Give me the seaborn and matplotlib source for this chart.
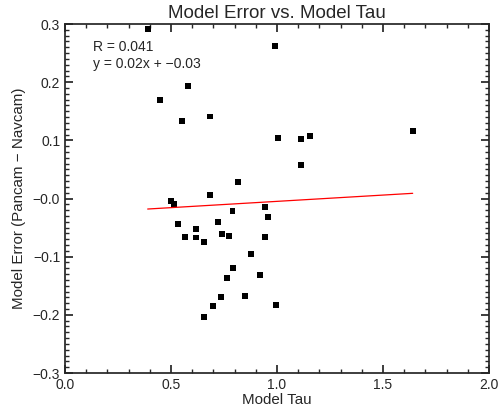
import numpy as np
import pandas as pd
import matplotlib
matplotlib.use("Agg")
import matplotlib.pyplot as plt
from matplotlib.ticker import MultipleLocator, FuncFormatter
import seaborn as sns

# Model tau vs. model error (Pancam - Navcam)
model_tau = [0.39, 0.99, 0.58, 0.448, 0.55, 0.686, 1.006, 0.818, 0.683,
             0.50, 0.515, 0.79, 0.942, 0.958, 0.535, 0.723, 0.565, 0.618,
             0.618, 0.657, 0.742, 0.774, 0.945, 0.876, 0.794, 0.766, 0.918,
             0.734, 0.847, 0.70, 0.995, 0.656, 1.115, 1.154, 1.115, 1.64]
model_error = [0.292, 0.262, 0.194, 0.169, 0.134, 0.141, 0.104, 0.028, 0.006,
               -0.005, -0.009, -0.021, -0.014, -0.032, -0.044, -0.040, -0.066,
               -0.053, -0.067, -0.075, -0.061, -0.064, -0.066, -0.095, -0.119,
               -0.137, -0.132, -0.170, -0.168, -0.185, -0.183, -0.204, 0.102,
               0.108, 0.058, 0.116]

# Linear fit parameters and correlation
fit_slope = 0.0216
fit_intercept = -0.0265
corr_r = 0.041

df = pd.DataFrame({"tau": model_tau, "err": model_error})

sns.set_theme(style="ticks", font_scale=10 / 11)
plt.rcParams["font.family"] = ["Liberation Sans", "DejaVu Sans"]

fig = plt.figure(figsize=(5.0, 4.17), dpi=100)
ax = fig.add_axes([0.13, 0.1055, 0.848, 0.8369])

sns.scatterplot(data=df, x="tau", y="err", ax=ax, marker="s", s=18,
                color="black", edgecolor="none", linewidth=0)

fit_x = np.array([df["tau"].min(), df["tau"].max()])
fit_y = fit_slope * fit_x + fit_intercept
sns.lineplot(x=fit_x, y=fit_y, ax=ax, color="red", linewidth=0.9)

ax.set_xlim(0.0, 2.0)
ax.set_ylim(-0.3, 0.3)

ax.xaxis.set_major_locator(MultipleLocator(0.5))
ax.xaxis.set_minor_locator(MultipleLocator(0.1))
ax.yaxis.set_major_locator(MultipleLocator(0.1))
ax.yaxis.set_minor_locator(MultipleLocator(0.01))


def fmt_y(v, pos):
    if v <= 1e-9:
        return "\u2212" + f"{abs(v):.1f}"
    return f"{v:.1f}"


ax.yaxis.set_major_formatter(FuncFormatter(fmt_y))
ax.xaxis.set_major_formatter(FuncFormatter(lambda v, p: f"{v:.1f}"))

ax.set_xlabel("Model Tau", labelpad=1)
ax.set_ylabel("Model Error (Pancam \u2212 Navcam)", labelpad=5)
ax.set_title("Model Error vs. Model Tau", fontsize=13.5, pad=4)

sign = "\u2212" if fit_intercept < 0 else ""
ax.text(0.065, 0.955, f"R = {corr_r:.3f}", transform=ax.transAxes,
        fontsize=10, va="top", ha="left")
ax.text(0.065, 0.905,
        f"y = {fit_slope:.2f}x + {sign}{abs(fit_intercept):.2f}",
        transform=ax.transAxes, fontsize=10, va="top", ha="left")

# Inward ticks on all four sides
ax.tick_params(which="both", direction="in", top=True, right=True, length=6)
ax.tick_params(which="minor", length=3)

fig.savefig("out.png", dpi=100)
